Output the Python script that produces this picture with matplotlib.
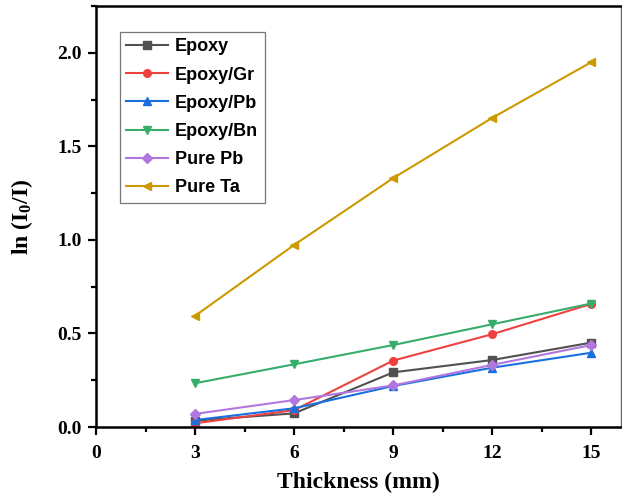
import matplotlib
matplotlib.use("Agg")
import matplotlib.pyplot as plt
from matplotlib.ticker import MultipleLocator

plt.rcParams['mathtext.fontset'] = 'custom'
plt.rcParams['mathtext.rm'] = 'Liberation Serif:bold'
plt.rcParams['mathtext.it'] = 'Liberation Serif:bold'
plt.rcParams['mathtext.bf'] = 'Liberation Serif:bold'
plt.rcParams['mathtext.default'] = 'regular'

thickness = [3, 6, 9, 12, 15]
epoxy = [0.034, 0.073, 0.292, 0.358, 0.451]
epoxy_gr = [0.020, 0.090, 0.355, 0.496, 0.658]
epoxy_pb = [0.037, 0.100, 0.219, 0.317, 0.397]
epoxy_bn = [0.234, 0.335, 0.438, 0.549, 0.660]
pure_pb = [0.070, 0.144, 0.222, 0.332, 0.438]
pure_ta = [0.594, 0.973, 1.330, 1.652, 1.950]

series = [
    ("Epoxy", epoxy, "#515151", "s"),
    ("Epoxy/Gr", epoxy_gr, "#F14040", "o"),
    ("Epoxy/Pb", epoxy_pb, "#1A6FDF", "^"),
    ("Epoxy/Bn", epoxy_bn, "#37AD6B", "v"),
    ("Pure Pb", pure_pb, "#B177DE", "D"),
    ("Pure Ta", pure_ta, "#CC9900", "<"),
]

fig = plt.figure(figsize=(6.22, 4.98), dpi=100)
ax = fig.add_axes([96/622, 1-427/498, (621-96)/622, (427-6)/498])

for name, vals, col, mk in series:
    ms = 5 if mk == "D" else 5.5
    ax.plot(thickness, vals, color=col, marker=mk, markersize=ms, linewidth=1.5, label=name)

ax.set_xlim(0, 15.9)
ax.set_ylim(0, 2.25)
ax.xaxis.set_major_locator(MultipleLocator(3))
ax.xaxis.set_minor_locator(MultipleLocator(1.5))
ax.yaxis.set_major_locator(MultipleLocator(0.5))
ax.yaxis.set_minor_locator(MultipleLocator(0.25))
ax.set_yticks([0, 0.5, 1.0, 1.5, 2.0])
ax.set_yticklabels(["0.0", "0.5", "1.0", "1.5", "2.0"])

for k in ('left', 'bottom', 'top'):
    ax.spines[k].set_linewidth(1.8)
    ax.spines[k].set_color('black')
ax.spines['right'].set_linewidth(1.0)
ax.spines['right'].set_color('#666666')
ax.tick_params(which='major', direction='out', length=6, width=1.6)
ax.tick_params(which='minor', direction='out', length=3.5, width=1.6)
ax.tick_params(axis='x', which='major', pad=7)
ax.tick_params(axis='y', which='major', pad=4)
for lbl in ax.get_xticklabels() + ax.get_yticklabels():
    lbl.set_fontfamily('Liberation Serif')
    lbl.set_fontweight('bold')
    lbl.set_fontsize(14)

ax.set_xlabel("Thickness (mm)", fontfamily='Liberation Serif', fontweight='bold', fontsize=17, labelpad=7)
ax.set_ylabel(r"ln (I$_0$/I)", fontfamily='Liberation Serif', fontweight='bold', fontsize=17, labelpad=16)

leg = ax.legend(loc='upper left', bbox_to_anchor=(0.046, 0.938), frameon=True, fancybox=False,
                edgecolor='#555555', handlelength=2.3, handletextpad=0.4, borderpad=0.35,
                borderaxespad=0, labelspacing=0.62,
                prop={'family': 'Liberation Sans', 'weight': 'bold', 'size': 13})
leg.get_frame().set_linewidth(0.9)

fig.savefig("out.png", dpi=100)
